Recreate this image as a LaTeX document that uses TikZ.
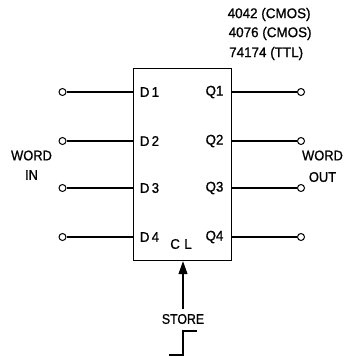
\documentclass[tikz,border=0pt]{standalone}
\usepackage{fontspec}
\setmainfont[FakeBold=1]{Liberation Sans}
\usetikzlibrary{arrows.meta}
\tikzset{
  wire/.style={line width=1.5pt,black},
  thinwire/.style={line width=1.1pt,black},
  term/.style={circle,draw=black,line width=1pt,fill=white,inner sep=0pt,minimum size=7pt},
  pin/.style={font=\fontsize{14}{15}\selectfont,inner sep=0pt,anchor=center,xscale=0.95},
  lab/.style={font=\fontsize{14}{15}\selectfont,inner sep=0pt,anchor=center},
  chip/.style={draw=black,line width=0.9pt,inner sep=0pt,minimum width=97.5pt,minimum height=192.5pt}
}
\begin{document}
\begin{tikzpicture}[x=1pt,y=-1pt]
\useasboundingbox (0,0) rectangle (345,357);
\node[chip] (box) at (182.5,164.5) {};
\foreach \n/\y/\st in {1/92/wire,2/141/wire,3/188/thinwire,4/237/wire}{
  \node[term] (i\n) at (62.5,\y) {};
  \coordinate (bl\n) at (box.west |- i\n);
  \draw[\st] (i\n) -- (bl\n);
  \node[term] (o\n) at (301,\y) {};
  \coordinate (br\n) at (box.east |- o\n);
  \draw[wire] (br\n) -- (o\n);
  \node[pin] (d\n) at (149.5,\y) {D\,\n};
  \node[pin] (q\n) at (214.5,\y) {Q\n};
}
\node[pin] (cl) at (181,244) {C\,\,L};
\node[lab,anchor=west,xscale=0.96] (t1) at (227.5,14.5) {4042 (CMOS)};
\node[lab,anchor=west,xscale=0.96] (t2) at (228.5,33.5) {4076 (CMOS)};
\node[lab,anchor=west,xscale=0.96] (t3) at (229,53.5) {74174 (TTL)};
\node[lab,xscale=0.92] (wi1) at (31.5,155.5) {WORD};
\node[lab,xscale=0.92] (wi2) at (31.5,175) {IN};
\node[lab,xscale=0.92] (wo1) at (322.5,155.5) {WORD};
\node[lab,xscale=0.92] (wo2) at (322.5,177) {OUT};
\node[lab,xscale=0.88] (st) at (183,319) {STORE};
\coordinate (sb) at (183,309);
\draw[thinwire,-{Triangle[length=13pt,width=9pt]}] (sb) -- (box.south -| sb);
\coordinate (s1) at (169,355);
\coordinate (s2) at (183,355);
\coordinate (s3) at (183,331);
\coordinate (s4) at (197,331);
\draw[line width=1.6pt] (s1) -- (s2) -- (s3) -- (s4);
\end{tikzpicture}
\end{document}
